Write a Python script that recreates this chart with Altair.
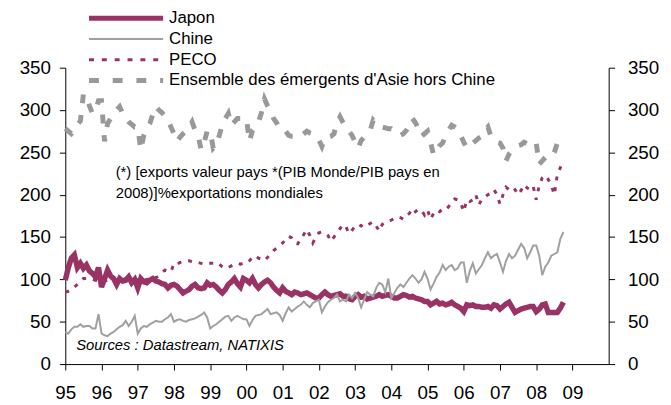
import altair as alt
import pandas as pd

# Monthly series, Jan 1995 -> Oct 2008
japon = [
    99, 114, 125, 129, 114, 119, 113, 117, 110, 107, 103, 114,   # 1995
    91, 101, 111, 104, 101, 94, 101, 98, 99, 103, 96, 100,       # 1996
    90, 101, 97, 96, 99, 101, 98, 97, 95, 94, 90, 93,            # 1997
    94, 92, 88, 84, 86, 88, 92, 94, 90, 89, 90, 96,              # 1998
    93, 94, 91, 87, 84, 88, 94, 97, 101, 95, 91, 101,            # 1999
    99, 96, 101, 94, 90, 94, 97, 99, 96, 91, 87, 84,             # 2000
    90, 86, 84, 82, 85, 84, 82, 83, 84, 82, 80, 78,              # 2001
    78, 82, 85, 82, 80, 81, 82, 83, 80, 80, 77, 76,              # 2002
    80, 82, 79, 80, 77, 78, 79, 80, 82, 80, 81, 82,              # 2003
    80, 78, 78, 80, 82, 81, 79, 80, 78, 77, 76, 74,              # 2004
    74, 70, 72, 74, 71, 72, 70, 71, 73, 70, 68, 66,              # 2005
    62, 70, 69, 70, 68, 68, 67, 67, 68, 66, 70, 69,              # 2006
    65, 68, 71, 73, 67, 61, 63, 65, 66, 67, 68, 68,              # 2007
    62, 65, 70, 71, 61, 61, 61, 61, 66, 73,                      # 2008
]
chine = [
    38, 36, 41, 44, 44, 47, 44, 45, 45, 42, 42, 59,              # 1995
    36, 34, 33, 36, 38, 41, 44, 46, 51, 45, 50, 57,              # 1996
    36, 42, 45, 44, 47, 49, 51, 50, 50, 53, 55, 59,              # 1997
    50, 52, 53, 51, 50, 52, 53, 54, 56, 58, 61, 55,              # 1998
    42, 45, 47, 50, 53, 56, 57, 51, 55, 57, 55, 53,              # 1999
    53, 45, 52, 57, 58, 59, 62, 65, 59, 60, 61, 58,              # 2000
    51, 60, 67, 62, 65, 68, 70, 74, 70, 67, 72, 74,              # 2001
    76, 61, 68, 73, 76, 78, 82, 74, 76, 74, 82, 78,              # 2002
    84, 78, 67, 76, 85, 82, 80, 90, 96, 94, 85, 101,             # 2003
    78, 84, 90, 94, 91, 96, 101, 105, 101, 96, 100, 109,         # 2004
    101, 88, 95, 103, 108, 117, 111, 115, 117, 111, 113, 120,    # 2005
    120, 96, 110, 119, 107, 112, 117, 125, 132, 125, 128, 130,   # 2006
    120, 109, 122, 130, 125, 128, 135, 142, 137, 125, 132, 140,  # 2007
    140, 128, 105, 115, 120, 128, 130, 132, 148, 156,            # 2008
]
peco = [
    85, 86, 88, 91, 94, 97, 101, 101, 101, 100, 99, 98,          # 1995
    97, 98, 99, 101, 100, 98, 99, 100, 101, 100, 99, 100,        # 1996
    100, 101, 99, 100, 101, 103, 102, 104, 108, 111, 110, 109,   # 1997
    119, 118, 120, 121, 122, 122, 121, 121, 120, 119, 118, 119,  # 1998
    119, 119, 120, 118, 115, 113, 114, 116, 118, 119, 118, 119,  # 1999
    119, 122, 126, 128, 125, 124, 122, 126, 130, 134, 137, 140,  # 2000
    143, 147, 151, 149, 143, 142, 148, 153, 159, 152, 143, 150,  # 2001
    155, 156, 155, 152, 145, 150, 155, 160, 165, 162, 154, 158,  # 2002
    163, 165, 163, 166, 164, 166, 168, 163, 157, 165, 168, 169,  # 2003
    170, 172, 174, 173, 171, 175, 178, 184, 180, 183, 182, 176,  # 2004
    182, 171, 178, 182, 180, 183, 182, 186, 192, 195, 194, 190,  # 2005
    180, 194, 192, 194, 200, 188, 195, 197, 200, 202, 206, 200,  # 2006
    189, 200, 209, 206, 203, 206, 200, 205, 212, 208, 206, 210,  # 2007
    194, 211, 220, 223, 218, 211, 200, 224, 232, 240,            # 2008
]
asie = [
    278, 275, 272, 276, 283, 287, 319, 315, 305, 296, 300, 311,  # 1995
    311, 263, 284, 290, 295, 300, 304, 296, 290, 286, 283, 280,  # 1996
    280, 253, 270, 278, 284, 295, 304, 300, 297, 293, 288, 280,  # 1997
    272, 263, 268, 272, 275, 280, 286, 276, 270, 253, 262, 275,  # 1998
    275, 255, 259, 270, 282, 290, 296, 282, 286, 290, 290, 290,  # 1999
    290, 263, 276, 280, 286, 297, 313, 305, 299, 290, 285, 278,  # 2000
    278, 275, 270, 269, 269, 270, 269, 272, 275, 273, 272, 270,  # 2001
    265, 257, 267, 268, 269, 272, 285, 292, 285, 278, 275, 270,  # 2002
    262, 255, 264, 268, 272, 276, 288, 284, 282, 280, 279, 278,  # 2003
    278, 275, 272, 270, 272, 276, 282, 290, 285, 278, 269, 272,  # 2004
    275, 262, 247, 253, 258, 261, 270, 276, 282, 280, 278, 270,  # 2005
    262, 255, 258, 261, 264, 267, 269, 276, 280, 269, 265, 262,  # 2006
    261, 255, 240, 248, 252, 255, 258, 259, 262, 260, 258, 261,  # 2007
    261, 236, 240, 244, 244, 244, 250, 261, 265, 270,            # 2008
]

x_ticks = list(range(1995, 2010))
y_ticks = list(range(0, 351, 50))
legend_labels = ["Japon", "Chine", "PECO", "Ensemble des émergents d'Asie hors Chine"]
note_lines = ["(*) [exports valeur pays *(PIB Monde/PIB pays en",
              "2008)]%exportations mondiales"]
source_text = "Sources : Datastream, NATIXIS"

FONT = "Liberation Sans"
MAG = "#993366"
GREY = "#a0a0a0"
GREY2 = "#999999"


def frame(vals):
    return pd.DataFrame({"t": [1995 + i / 12 for i in range(len(vals))], "v": vals})


x_enc = alt.X(
    "t:Q",
    scale=alt.Scale(domain=[1995, 2010], nice=False, zero=False),
    axis=alt.Axis(values=x_ticks, labelExpr="substring(toString(datum.value), 2, 4)",
                  title=None, grid=False, tickSize=6, labelPadding=14,
                  labelFlush=False, labelOverlap=False),
)
y_scale = alt.Scale(domain=[0, 350], nice=False)
left_axis = alt.Axis(values=y_ticks, title=None, grid=False, orient="left",
                     tickSize=6, labelPadding=9)
right_axis = alt.Axis(values=y_ticks, title=None, grid=False, orient="right",
                      tickSize=6, labelPadding=13)


def series(vals, **mk):
    return alt.Chart(frame(vals)).mark_line(clip=False, **mk).encode(
        x=x_enc, y=alt.Y("v:Q", scale=y_scale, axis=left_axis))


lines = alt.layer(
    series(asie, color=GREY2, strokeWidth=5, strokeDash=[9, 12]),
    series(peco, color=MAG, strokeWidth=3, strokeDash=[4, 7]),
    series(japon, color=MAG, strokeWidth=5.5),
    series(chine, color=GREY, strokeWidth=2),
)

right = alt.Chart(frame(japon)).mark_line(opacity=0).encode(
    x=x_enc, y=alt.Y("v:Q", scale=y_scale, axis=right_axis))

dummy = pd.DataFrame({"a": [0]})
styles = [
    dict(color=MAG, strokeWidth=5),
    dict(color=GREY, strokeWidth=2),
    dict(color=MAG, strokeWidth=3, strokeDash=[5, 8]),
    dict(color=GREY2, strokeWidth=5, strokeDash=[10, 14]),
]
rows_y = [-50, -29, -8, 13]
legend_layers = []
for lab, st, yy in zip(legend_labels, styles, rows_y):
    legend_layers.append(
        alt.Chart(dummy).mark_rule(**st).encode(
            x=alt.value(24), x2=alt.value(99), y=alt.value(yy)))
    legend_layers.append(
        alt.Chart(dummy).mark_text(text=lab, align="left", baseline="middle",
                                   font=FONT, fontSize=17, color="black").encode(
            x=alt.value(105), y=alt.value(yy)))

notes = [
    alt.Chart(dummy).mark_text(text=note_lines[0], align="left", baseline="middle",
                               font=FONT, fontSize=15, color="black").encode(
        x=alt.value(51), y=alt.value(106)),
    alt.Chart(dummy).mark_text(text=note_lines[1], align="left", baseline="middle",
                               font=FONT, fontSize=15, color="black").encode(
        x=alt.value(51), y=alt.value(127)),
    alt.Chart(dummy).mark_text(text=source_text, align="left", baseline="middle",
                               font=FONT, fontSize=15, fontStyle="italic",
                               color="black").encode(
        x=alt.value(11), y=alt.value(281)),
]

chart = alt.layer(lines, right, *legend_layers, *notes).resolve_scale(
    y="independent"
).properties(
    width=550, height=300,
    autosize=alt.AutoSizeParams(type="none"),
    padding={"left": 58, "top": 58, "right": 55, "bottom": 39},
).configure_view(strokeWidth=0).configure_axis(
    labelFont=FONT, labelFontSize=19, labelColor="black",
    domainColor="black", tickColor="black", domainWidth=1, tickWidth=1,
)

chart.save("out.html", embed_options={"renderer": "svg", "actions": False})
